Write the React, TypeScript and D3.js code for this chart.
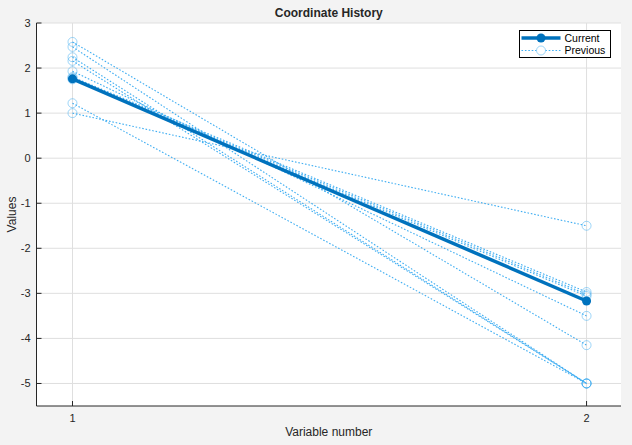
import React from 'react';
import * as d3 from 'd3';

// variable indices on the x axis
const VARIABLES = [1, 2];
// current coordinate
const CURRENT = [1.76, -3.17];
// earlier iterates, one [x1, x2] per row
const PREVIOUS: number[][] = [
  [2.58, -4.15],
  [2.47, -5.0],
  [2.24, -5.0],
  [2.16, -5.0],
  [1.93, -3.5],
  [1.22, -5.0],
  [1.0, -1.5],
  [1.8, -2.97],
  [1.78, -3.02],
  [1.75, -3.06],
];
const Y_TICKS = [3, 2, 1, 0, -1, -2, -3, -4, -5];
const X_TICKS = [1, 2];

const W = 632;
const H = 445;
const M = { left: 36.5, right: 11, top: 23, bottom: 39 };
const FONT = '"Liberation Sans", Arial, Helvetica, sans-serif';
const TEXT = '#262626';
const CUR_COLOR = '#0072BD';
const PREV_COLOR = '#40AEF2';
const GRID = '#dfdfdf';

const App: React.FC = () => {
  const x = d3.scaleLinear().domain([0.93, 2.067]).range([M.left, W - M.right]);
  const y = d3.scaleLinear().domain([-5.5, 3]).range([H - M.bottom, M.top]);

  const line = d3.line<number>()
    .x((_, i) => x(VARIABLES[i]))
    .y(d => y(d));

  const plotW = W - M.left - M.right;
  const plotH = H - M.top - M.bottom;

  return (
    <div style={{ position: 'fixed', left: 0, top: 0, width: W, height: H }}>
      <svg width={W} height={H} viewBox={`0 0 ${W} ${H}`} style={{ display: 'block', fontFamily: FONT }}>
        <rect x={0} y={0} width={W} height={H} fill="#f3f3f3" />
        <rect x={M.left} y={M.top} width={plotW} height={plotH} fill="white" />

        {/* grid */}
        {Y_TICKS.map(t => (
          <line key={`gy${t}`} x1={M.left} x2={W - M.right} y1={y(t)} y2={y(t)} stroke={GRID} strokeWidth={1} />
        ))}
        {X_TICKS.map(t => (
          <line key={`gx${t}`} x1={x(t)} x2={x(t)} y1={M.top} y2={H - M.bottom} stroke={GRID} strokeWidth={1} />
        ))}

        {/* previous iterates */}
        {PREVIOUS.map((p, i) => (
          <g key={`p${i}`}>
            <path d={line(p) || ''} fill="none" stroke={PREV_COLOR} strokeWidth={1.1} strokeDasharray="1.6 1.8" />
            {p.map((v, j) => (
              <circle key={j} cx={x(VARIABLES[j])} cy={y(v)} r={4.5} fill="none" stroke={PREV_COLOR} strokeOpacity={0.5} strokeWidth={1} />
            ))}
          </g>
        ))}

        {/* current */}
        <path d={line(CURRENT) || ''} fill="none" stroke={CUR_COLOR} strokeWidth={3.5} />
        {CURRENT.map((v, j) => (
          <circle key={`c${j}`} cx={x(VARIABLES[j])} cy={y(v)} r={4.5} fill={CUR_COLOR} />
        ))}

        {/* axes */}
        <line x1={M.left} x2={M.left} y1={M.top} y2={H - M.bottom} stroke={TEXT} strokeWidth={1} />
        <line x1={M.left} x2={W - M.right} y1={H - M.bottom} y2={H - M.bottom} stroke={TEXT} strokeWidth={1} />
        {Y_TICKS.map(t => (
          <g key={`ty${t}`}>
            <line x1={M.left} x2={M.left + 5} y1={y(t)} y2={y(t)} stroke={TEXT} />
            <text x={M.left - 6} y={y(t)} dy="0.35em" textAnchor="end" fontSize={11} fill={TEXT}>{t}</text>
          </g>
        ))}
        {X_TICKS.map(t => (
          <g key={`tx${t}`}>
            <line x1={x(t)} x2={x(t)} y1={H - M.bottom} y2={H - M.bottom - 5} stroke={TEXT} />
            <text x={x(t)} y={H - M.bottom + 16} textAnchor="middle" fontSize={11} fill={TEXT}>{t}</text>
          </g>
        ))}

        <text x={M.left + plotW / 2} y={436} textAnchor="middle" fontSize={12} fill={TEXT}>Variable number</text>
        <text transform={`translate(16, ${M.top + plotH / 2}) rotate(-90)`} textAnchor="middle" fontSize={12} fill={TEXT}>Values</text>
        <text x={M.left + plotW / 2} y={17} textAnchor="middle" fontSize={12} fontWeight="bold" fill={TEXT}>Coordinate History</text>

        {/* legend */}
        <g transform="translate(519.5, 30.5)">
          <rect width={91} height={27} fill="white" stroke="#000" strokeWidth={1} />
          <line x1={2} x2={41} y1={7.5} y2={7.5} stroke={CUR_COLOR} strokeWidth={3.5} />
          <circle cx={21.5} cy={7.5} r={4.5} fill={CUR_COLOR} />
          <text x={45} y={7.5} dy="0.35em" fontSize={10.5} fill="#000">Current</text>
          <line x1={2} x2={41} y1={20} y2={20} stroke={PREV_COLOR} strokeWidth={1.1} strokeDasharray="1.6 1.8" />
          <circle cx={21.5} cy={20} r={4.5} fill="white" stroke={PREV_COLOR} strokeOpacity={0.5} />
          <text x={45} y={20} dy="0.35em" fontSize={10.5} fill="#000">Previous</text>
        </g>
      </svg>
    </div>
  );
};

export default App;
